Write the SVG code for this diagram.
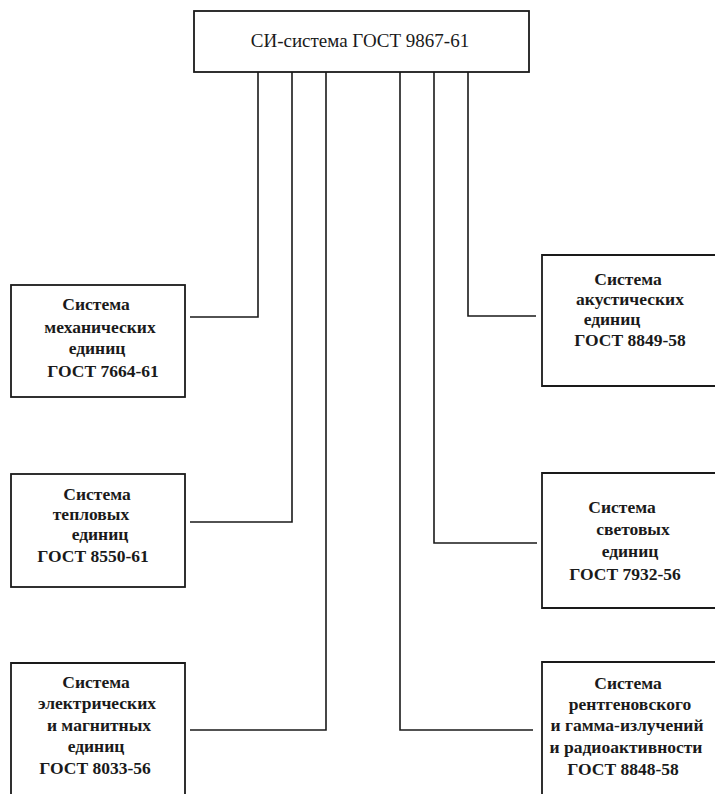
<svg xmlns="http://www.w3.org/2000/svg" width="715" height="794" viewBox="0 0 715 794">
<style>
.box{fill:none;stroke:#1a1a1a;stroke-width:1.8}
.con{fill:none;stroke:#1a1a1a;stroke-width:1.6}
text{font-family:'Liberation Serif','Times New Roman','DejaVu Serif',serif;fill:#1a1a1a;text-anchor:middle}
.t{font-size:17.5px;font-weight:bold}
.top{font-size:19px}
</style>
<rect width="715" height="794" fill="#ffffff"/>
<g id="si">
<rect class="box" x="194" y="11" width="335" height="61"/>
<text class="top" x="360" y="47">СИ-система ГОСТ 9867-61</text>
</g>
<g id="mech">
<rect class="box" x="11" y="285" width="174" height="112"/>
<text class="t" x="96" y="310">Система</text>
<text class="t" x="100" y="333">механических</text>
<text class="t" x="97" y="354">единиц</text>
<text class="t" x="103" y="377">ГОСТ 7664-61</text>
</g>
<g id="therm">
<rect class="box" x="11" y="474" width="174" height="113"/>
<text class="t" x="97" y="500">Система</text>
<text class="t" x="91" y="520">тепловых</text>
<text class="t" x="100" y="540">единиц</text>
<text class="t" x="93" y="562">ГОСТ 8550-61</text>
</g>
<g id="elec">
<path class="box" d="M11,800 V663 H185 V800"/>
<text class="t" x="96" y="688">Система</text>
<text class="t" x="97" y="709">электрических</text>
<text class="t" x="99" y="731">и магнитных</text>
<text class="t" x="96" y="752">единиц</text>
<text class="t" x="95" y="774">ГОСТ 8033-56</text>
</g>
<g id="acou">
<path class="box" d="M720,255 H542 V386 H720"/>
<text class="t" x="628" y="285">Система</text>
<text class="t" x="630" y="305">акустических</text>
<text class="t" x="612" y="325">единиц</text>
<text class="t" x="630" y="346">ГОСТ 8849-58</text>
</g>
<g id="light">
<path class="box" d="M720,473 H542 V608 H720"/>
<text class="t" x="622" y="513">Система</text>
<text class="t" x="633" y="535">световых</text>
<text class="t" x="630" y="557">единиц</text>
<text class="t" x="625" y="580">ГОСТ 7932-56</text>
</g>
<g id="xray">
<path class="box" d="M542,800 V662 H720"/>
<text class="t" x="628" y="689">Система</text>
<text class="t" x="630" y="710">рентгеновского</text>
<text class="t" x="627" y="731">и гамма-излучений</text>
<text class="t" x="626" y="753">и радиоактивности</text>
<text class="t" x="623" y="775">ГОСТ 8848-58</text>
</g>
<g id="connectors">
<path class="con" d="M258,72 V317 H190"/>
<path class="con" d="M292,72 V522 H190"/>
<path class="con" d="M326,72 V730 H190"/>
<path class="con" d="M400,72 V730 H533"/>
<path class="con" d="M434,72 V543 H537"/>
<path class="con" d="M468,72 V316 H536"/>
</g>
</svg>
